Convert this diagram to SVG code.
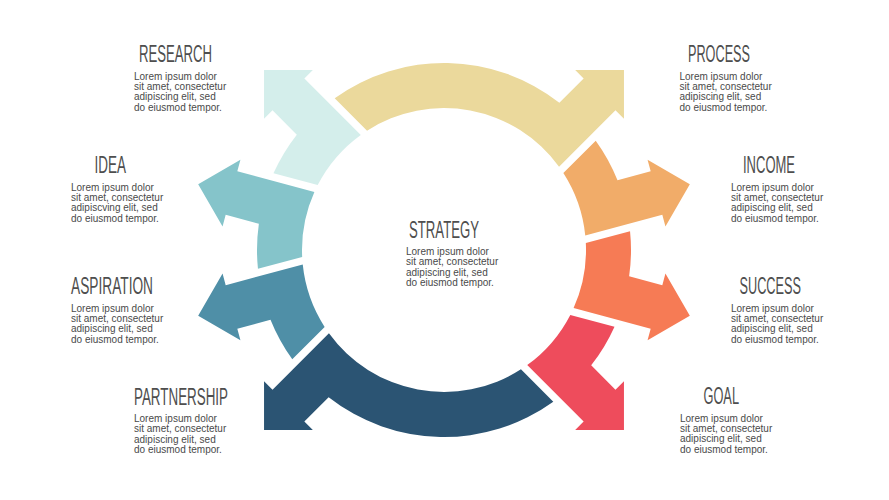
<svg xmlns="http://www.w3.org/2000/svg" width="889" height="500" viewBox="0 0 889 500">
<style>
.t{font-family:"Liberation Sans Narrow","Liberation Sans",Arial,sans-serif;font-size:23px;fill:#4e4e4e;}
.b{font-family:"Liberation Sans",Arial,sans-serif;font-size:10px;fill:#4a4a4a;}
</style>
<rect width="889" height="500" fill="#ffffff"/>
<g id="connectors"></g>
<g id="process">
<path fill="#EBD99C" d="M334.69,98.27 A187,187 0 0 1 559.36,102.82 L583.65,78.53 L575.17,70.04 L623.96,70.04 L623.96,118.83 L615.47,110.35 L559.05,166.77 A142,142 0 0 0 367.06,130.64 Z"/>
<text class="t" x="688" y="62" textLength="62" lengthAdjust="spacingAndGlyphs">PROCESS</text>
<text class="b" x="679.5" y="79.5"><tspan x="679.5">Lorem ipsum dolor</tspan><tspan x="679.5" dy="10.4">sit amet, consectetur</tspan><tspan x="679.5" dy="10.4">adipiscing elit, sed</tspan><tspan x="679.5" dy="10.4">do eiusmod tempor.</tspan></text>
</g>
<g id="income">
<path fill="#F1AC69" d="M595.73,140.70 A187,187 0 0 1 617.50,180.22 L650.68,171.33 L647.57,159.74 L689.83,184.13 L665.43,226.38 L662.32,214.79 L585.25,235.44 A142,142 0 0 0 563.36,173.07 Z"/>
<text class="t" x="743" y="173" textLength="52" lengthAdjust="spacingAndGlyphs">INCOME</text>
<text class="b" x="731" y="190.5"><tspan x="731">Lorem ipsum dolor</tspan><tspan x="731" dy="10.4">sit amet, consectetur</tspan><tspan x="731" dy="10.4">adipiscing elit, sed</tspan><tspan x="731" dy="10.4">do eiusmod tempor.</tspan></text>
</g>
<g id="success">
<path fill="#F67B55" d="M630.05,231.21 A187,187 0 0 1 629.14,276.32 L662.32,285.21 L665.43,273.62 L689.83,315.87 L647.57,340.26 L650.68,328.67 L573.61,308.02 A142,142 0 0 0 585.83,243.06 Z"/>
<text class="t" x="739.5" y="294" textLength="61.5" lengthAdjust="spacingAndGlyphs">SUCCESS</text>
<text class="b" x="731" y="311.5"><tspan x="731">Lorem ipsum dolor</tspan><tspan x="731" dy="10.4">sit amet, consectetur</tspan><tspan x="731" dy="10.4">adipiscing elit, sed</tspan><tspan x="731" dy="10.4">do eiusmod tempor.</tspan></text>
</g>
<g id="goal">
<path fill="#EE4C5C" d="M614.53,326.75 A187,187 0 0 1 591.18,365.36 L615.47,389.65 L623.96,381.17 L623.96,429.96 L575.17,429.96 L583.65,421.47 L527.23,365.05 A142,142 0 0 0 570.31,314.90 Z"/>
<text class="t" x="703.5" y="404" textLength="35.5" lengthAdjust="spacingAndGlyphs">GOAL</text>
<text class="b" x="680" y="421.5"><tspan x="680">Lorem ipsum dolor</tspan><tspan x="680" dy="10.4">sit amet, consectetur</tspan><tspan x="680" dy="10.4">adipiscing elit, sed</tspan><tspan x="680" dy="10.4">do eiusmod tempor.</tspan></text>
</g>
<g id="partnership">
<path fill="#2B5473" d="M553.31,401.73 A187,187 0 0 1 328.64,397.18 L304.35,421.47 L312.83,429.96 L264.04,429.96 L264.04,381.17 L272.53,389.65 L328.95,333.23 A142,142 0 0 0 520.94,369.36 Z"/>
<text class="t" x="134" y="404.5" textLength="94" lengthAdjust="spacingAndGlyphs">PARTNERSHIP</text>
<text class="b" x="134" y="422"><tspan x="134">Lorem ipsum dolor</tspan><tspan x="134" dy="10.4">sit amet, consectetur</tspan><tspan x="134" dy="10.4">adipiscing elit, sed</tspan><tspan x="134" dy="10.4">do eiusmod tempor.</tspan></text>
</g>
<g id="aspiration">
<path fill="#4F8FA7" d="M292.27,359.30 A187,187 0 0 1 270.50,319.78 L237.32,328.67 L240.43,340.26 L198.17,315.87 L222.57,273.62 L225.68,285.21 L302.75,264.56 A142,142 0 0 0 324.64,326.93 Z"/>
<text class="t" x="71" y="294" textLength="82" lengthAdjust="spacingAndGlyphs">ASPIRATION</text>
<text class="b" x="71" y="311.5"><tspan x="71">Lorem ipsum dolor</tspan><tspan x="71" dy="10.4">sit amet, consectetur</tspan><tspan x="71" dy="10.4">adipiscing elit, sed</tspan><tspan x="71" dy="10.4">do eiusmod tempor.</tspan></text>
</g>
<g id="idea">
<path fill="#85C4CA" d="M257.95,268.79 A187,187 0 0 1 258.86,223.68 L225.68,214.79 L222.57,226.38 L198.17,184.13 L240.43,159.74 L237.32,171.33 L314.39,191.98 A142,142 0 0 0 302.17,256.94 Z"/>
<text class="t" x="94.5" y="173" textLength="31.5" lengthAdjust="spacingAndGlyphs">IDEA</text>
<text class="b" x="71" y="190.5"><tspan x="71">Lorem ipsum dolor</tspan><tspan x="71" dy="10.4">sit amet, consectetur</tspan><tspan x="71" dy="10.4">adipiscving elit, sed</tspan><tspan x="71" dy="10.4">do eiusmod tempor.</tspan></text>
</g>
<g id="research">
<path fill="#D4EEEB" d="M273.47,173.25 A187,187 0 0 1 296.82,134.64 L272.53,110.35 L264.04,118.83 L264.04,70.04 L312.83,70.04 L304.35,78.53 L360.77,134.95 A142,142 0 0 0 317.69,185.10 Z"/>
<text class="t" x="139" y="62" textLength="73" lengthAdjust="spacingAndGlyphs">RESEARCH</text>
<text class="b" x="134" y="79.5"><tspan x="134">Lorem ipsum dolor</tspan><tspan x="134" dy="10.4">sit amet, consectetur</tspan><tspan x="134" dy="10.4">adipiscing elit, sed</tspan><tspan x="134" dy="10.4">do eiusmod tempor.</tspan></text>
</g>
<g id="strategy">
<text class="t" x="409" y="237.5" textLength="70" lengthAdjust="spacingAndGlyphs">STRATEGY</text>
<text class="b" x="406" y="255"><tspan x="406">Lorem ipsum dolor</tspan><tspan x="406" dy="10.4">sit amet, consectetur</tspan><tspan x="406" dy="10.4">adipiscing elit, sed</tspan><tspan x="406" dy="10.4">do eiusmod tempor.</tspan></text>
</g>
</svg>
